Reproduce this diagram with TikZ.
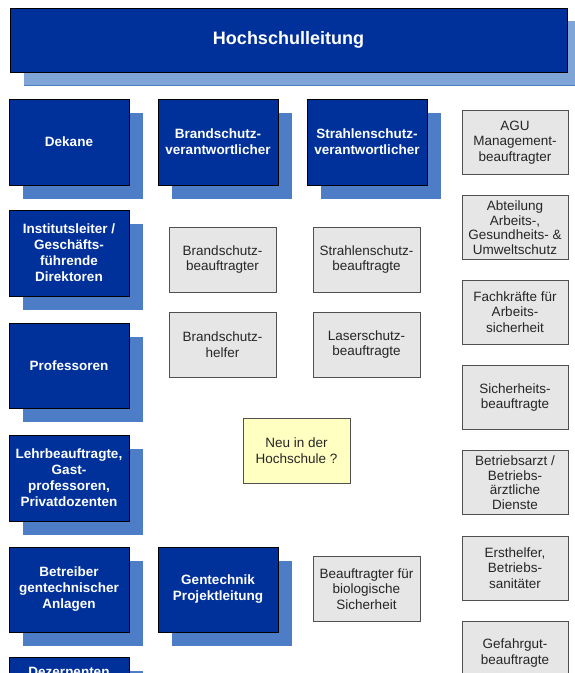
\documentclass[tikz,border=0pt]{standalone}
\usepackage{fontspec}
\setmainfont{Liberation Sans}
\usetikzlibrary{shadows}
\definecolor{dblue}{HTML}{00319B}
\definecolor{sblue}{HTML}{4C7DC6}
\definecolor{tblue}{HTML}{7FA4D6}
\definecolor{gfill}{HTML}{E6E6E6}
\definecolor{gline}{HTML}{505050}
\definecolor{yfill}{HTML}{FFFFC2}
\begin{document}
\begin{tikzpicture}[x=1pt,y=-1pt,
  bluebox/.style={draw=black, line width=0.8pt, fill=dblue, text=white, align=center,
    font=\fontsize{13.5}{16}\bfseries, minimum width=120pt, minimum height=86pt, inner sep=1pt,
    general shadow={fill=sblue, draw=none, shadow xshift=14pt, shadow yshift=-14pt}},
  graybox/.style={draw=gline, line width=1pt, fill=gfill, text=black!85, align=center,
    font=\fontsize{13.5}{15.5}\selectfont, minimum width=107pt, minimum height=65pt, inner sep=1pt},
  rightbox/.style={graybox, minimum width=106pt, minimum height=64pt},
  yellowbox/.style={graybox, fill=yfill}]
\useasboundingbox (0,0) rectangle (575,673);
\clip (0,0) rectangle (575,673);
% top
\node[bluebox, minimum width=557pt, minimum height=64pt, font=\fontsize{18}{20}\bfseries,
  general shadow={fill=tblue, draw=none, shadow xshift=14pt, shadow yshift=-13pt}]
  (hsl) at (288.5,40) {Hochschulleitung};
% left column
\node[bluebox] (dek) at (69,142) {Dekane};
\node[bluebox] (inst) at (69,253) {Institutsleiter /\\Geschäfts-\\führende\\Direktoren};
\node[bluebox, minimum height=85pt] (prof) at (69,365.5) {Professoren};
\node[bluebox] (lehr) at (69,478) {Lehrbeauftragte,\\Gast-\\professoren,\\Privatdozenten};
\node[bluebox, minimum height=85pt] (betr) at (69,589.5) {Betreiber\\gentechnischer\\Anlagen};
\node[bluebox] (dez) at (69,700) {};
\node[text=white, font=\fontsize{13.5}{16}\bfseries, inner sep=0pt, anchor=base] (dezt) at (69,676) {Dezernenten};
% second column
\node[bluebox] (bsv) at (218,142) {Brandschutz-\\verantwortlicher};
\node[bluebox, minimum height=85pt] (gent) at (218,589.5) {Gentechnik\\Projektleitung};
% third column
\node[bluebox] (ssv) at (367,142) {Strahlenschutz-\\verantwortlicher};
% gray boxes
\node[graybox] (bsb) at (222.5,259.5) {Brandschutz-\\beauftragter};
\node[graybox] (ssb) at (366.5,259.5) {Strahlenschutz-\\beauftragte};
\node[graybox] (bsh) at (222.5,344.5) {Brandschutz-\\helfer};
\node[graybox] (lsb) at (366.5,344.5) {Laserschutz-\\beauftragte};
\node[graybox] (bio) at (366.5,589) {Beauftragter für\\biologische\\Sicherheit};
\node[yellowbox] (neu) at (296.5,450.5) {Neu in der\\Hochschule ?};
% right column
\node[rightbox] (agu) at (515,142.5) {AGU\\Management-\\beauftragter};
\node[rightbox, font=\fontsize{13.5}{14.5}\selectfont] (abt) at (515,227.5) {Abteilung\\Arbeits-,\\Gesundheits- \&\\Umweltschutz};
\node[rightbox] (fak) at (515,312) {Fachkräfte für\\Arbeits-\\sicherheit};
\node[rightbox] (sib) at (515,397.5) {Sicherheits-\\beauftragte};
\node[rightbox, font=\fontsize{13.5}{14.5}\selectfont] (bea) at (515,482.5) {Betriebsarzt /\\Betriebs-\\ärztliche\\Dienste};
\node[rightbox] (ers) at (515,568) {Ersthelfer,\\Betriebs-\\sanitäter};
\node[rightbox] (gef) at (515,653) {Gefahrgut-\\beauftragte};
\end{tikzpicture}
\end{document}
